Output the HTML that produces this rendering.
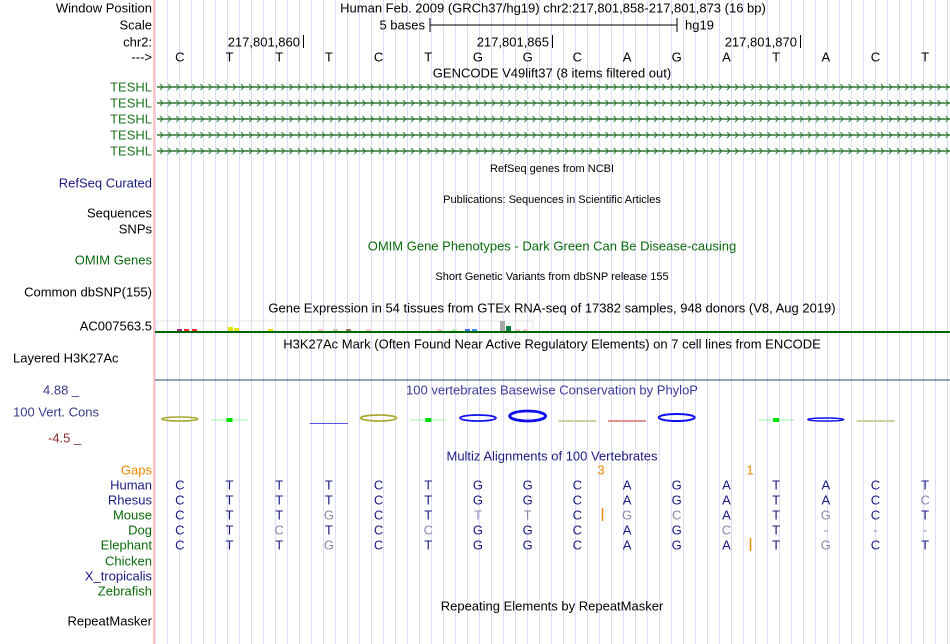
<!DOCTYPE html>
<html><head><meta charset="utf-8"><style>
body{margin:0;background:#fff;width:950px;height:644px;overflow:hidden}
svg{display:block;font-family:"Liberation Sans",sans-serif}
</style></head><body>
<svg id="c" width="950" height="644" xmlns="http://www.w3.org/2000/svg"></svg>
<script>
const bases=["C","T","T","T","C","T","G","G","C","A","G","A","T","A","C","T"];
const speciesNames=["Human","Rhesus","Mouse","Dog","Elephant"];
const alignRows=["CTTTCTGGCAGATACT","CTTTCTGGCAGATACc","CTTgCTttCgcATgCT","CTcTCcGGCAGcT---","CTTgCTGGCAGATgCT"];
const exprX=[177,184,192,228,234,268,318,333,346,366,437,452,465,472,500,506,515,523];
const exprH=[2,2,2,4,3,2,2,2,2,2,2,2,2,2,10,5,2,2];
const exprColors=["#9b2a7a","#ff3030","#ff3030","#e6e600","#e6e600","#e6e600","#f0c8c8","#d8c0b0","#9a7a60","#f0c8c8","#f0c8c8","#b0f0b0","#3070ff","#3090ff","#a8a8a8","#008040","#f0c8c8","#f0c8c8"];
const consBase=[0,1,3,4,5,6,7,8,9,10,12,13,14];
const consType=["oliveE","green","blueLine","oliveC","green","blueG","blueG","oliveLine","redLine","blueG","green","blueE","oliveLine"];
const consSize=[4,0,1,6,0,6,10,2,2,7,0,3,2];

const svg=document.getElementById('c');
const NS="http://www.w3.org/2000/svg";
function el(tag,attrs,name,inter){const e=document.createElementNS(NS,tag);for(const k in attrs)e.setAttribute(k,attrs[k]);


svg.appendChild(e);return e;}
function txt(x,y,s,opt,name,inter){const t=el('text',Object.assign({x:x,y:y+1,'font-size':13,fill:'#000','dominant-baseline':'middle'},opt||{}),name,inter);t.textContent=s;return t;}
const x0=155,bw=(950-155)/16;
function bx(i){return x0+(i+0.5)*bw;}
for(let x=155;x<950;x+=12){el('line',{x1:x+0.5,y1:0,x2:x+0.5,y2:644,stroke:'#dcdcf6','stroke-width':1},'grid-line',false);}
el('line',{x1:154,y1:0,x2:154,y2:644,stroke:'#ffb0b0','stroke-width':1.5},'label-divider',false);
const L=[["Window Position",8,"#000"],["Scale",25,"#000"],["chr2:",42,"#000"],["--->",57,"#000"],["TESHL",87,"#227722"],["TESHL",103,"#227722"],["TESHL",119,"#227722"],["TESHL",135,"#227722"],["TESHL",151,"#227722"],["RefSeq Curated",183,"#1a1a80"],["Sequences",213,"#000"],["SNPs",229,"#000"],["OMIM Genes",260,"#0a6a0a"],["Common dbSNP(155)",292,"#000"],["AC007563.5",326,"#000"],["Layered H3K27Ac",358,"#000"],["100 Vert. Cons",412,"#3a3a8a"],["Gaps",470,"#ee8800"],["Human",485,"#1a1a80"],["Rhesus",500,"#1a1a80"],["Mouse",515,"#0a6a0a"],["Dog",530,"#0a6a0a"],["Elephant",545,"#0a6a0a"],["Chicken",561,"#0a6a0a"],["X_tropicalis",576,"#1a1a80"],["Zebrafish",591,"#0a6a0a"],["RepeatMasker",621,"#000"]];
L.forEach(l=>{const ta=(l[0]==="Layered H3K27Ac"||l[0]==="100 Vert. Cons")?{x:13,a:'start'}:{x:152,a:'end'};txt(ta.x,l[1],l[0],{fill:l[2],'text-anchor':ta.a},'track-label',true);});
txt(43,390,"4.88 _",{fill:'#3a3a8a'},'y-axis-max',false);
txt(48,438,"-4.5 _",{fill:'#8a2a2a'},'y-axis-min',false);
txt(553,8,"Human Feb. 2009 (GRCh37/hg19)   chr2:217,801,858-217,801,873 (16 bp)",{'text-anchor':'middle','xml:space':'preserve'},'position-title',false);
txt(425,25,"5 bases",{'text-anchor':'end'},'scale-label',false);
el('line',{x1:430,y1:25,x2:677,y2:25,stroke:'#000'},'scale-bar',false);
el('line',{x1:430,y1:18,x2:430,y2:32,stroke:'#000'},'scale-tick',false);
el('line',{x1:677,y1:18,x2:677,y2:32,stroke:'#000'},'scale-tick',false);
txt(685,25,"hg19",{},'assembly-label',false);
[["217,801,860",303],["217,801,865",552],["217,801,870",800]].forEach(p=>{txt(p[1]-3,42,p[0],{'text-anchor':'end'},'coordinate-label',false);el('line',{x1:p[1]+0.5,y1:35,x2:p[1]+0.5,y2:48,stroke:'#000'},'coordinate-tick',false);});
bases.forEach((b,i)=>txt(bx(i),57,b,{'text-anchor':'middle'},'base-'+i,false));
txt(552,73,"GENCODE V49lift37 (8 items filtered out)",{'text-anchor':'middle'},'gencode-title',false);
[87,103,119,135,151].forEach(y=>{el('line',{x1:157,y1:y,x2:950,y2:y,stroke:'#0a5a0a','stroke-width':1.3},'transcript-line',true);
let d='';for(let x=160;x<948;x+=8.1){d+=`M${x},${y-3}L${x+3},${y}L${x},${y+3}`;}el('path',{d:d,stroke:'#2a7a2a',fill:'none','stroke-width':0.9},'strand-arrows',false);});
txt(552,168,"RefSeq genes from NCBI",{'text-anchor':'middle','font-size':11},'refseq-title',false);
txt(552,199,"Publications: Sequences in Scientific Articles",{'text-anchor':'middle','font-size':11},'publications-title',false);
txt(552,246,"OMIM Gene Phenotypes - Dark Green Can Be Disease-causing",{'text-anchor':'middle',fill:'#0a6a0a'},'omim-title',false);
txt(552,276,"Short Genetic Variants from dbSNP release 155",{'text-anchor':'middle','font-size':11},'dbsnp-title',false);
txt(552,308,"Gene Expression in 54 tissues from GTEx RNA-seq of 17382 samples, 948 donors (V8, Aug 2019)",{'text-anchor':'middle'},'gtex-title',false);
el('rect',{x:157,y:321,width:376,height:11,fill:'none',stroke:'#e4e4e4'},'gtex-box',false);
exprX.forEach((x,i)=>el('rect',{x:x,y:331-exprH[i],width:5,height:exprH[i],fill:exprColors[i]},'gtex-bar',true));
el('line',{x1:155,y1:332,x2:950,y2:332,stroke:'#006400','stroke-width':2},'gtex-baseline',false);
txt(552,344,"H3K27Ac Mark (Often Found Near Active Regulatory Elements) on 7 cell lines from ENCODE",{'text-anchor':'middle'},'h3k27ac-title',false);
el('line',{x1:155,y1:380,x2:950,y2:380,stroke:'#2a4a6a','stroke-width':1},'h3k27ac-baseline',false);
txt(552,390,"100 vertebrates Basewise Conservation by PhyloP",{'text-anchor':'middle',fill:'#3a3a9a'},'phylop-title',false);
consBase.forEach((bi,k)=>{const cx=bx(bi),t=consType[k],s=consSize[k],cy=420;
if(t==='green'){el('line',{x1:cx-18,y1:cy,x2:cx+18,y2:cy,stroke:'#a0f0a0'},'phylop-mark',true);el('rect',{x:cx-3,y:cy-2,width:6,height:4,fill:'#00e000'},'phylop-mark',true);}
else if(t.endsWith('Line')){const col=t==='blueLine'?'#5555dd':t==='redLine'?'#e09090':'#d0d0a0';el('rect',{x:cx-19,y:cy+(t==='blueLine'?3:0),width:38,height:s,fill:col},'phylop-mark',true);}
else{const col=t.startsWith('blue')?'#1010ee':'#aaaa30';el('ellipse',{cx:cx,cy:cy-s/2+1,rx:18,ry:Math.max(s/2,1.2),fill:'none',stroke:col,'stroke-width':Math.max(1.5,s/3.5)},'phylop-mark',true);}
});
txt(552,456,"Multiz Alignments of 100 Vertebrates",{'text-anchor':'middle',fill:'#1a1a80'},'multiz-title',false);
txt(601,470,"3",{'text-anchor':'middle',fill:'#ee8800'},'gap-count',false);
txt(750,470,"1",{'text-anchor':'middle',fill:'#ee8800'},'gap-count',false);
const rowY=[485,500,515,530,545];
alignRows.forEach((r,ri)=>{[...r].forEach((c,i)=>{const lower=c===c.toLowerCase()&&c!=='-';txt(bx(i),rowY[ri],c.toUpperCase(),{'text-anchor':'middle',fill:(lower||c==='-')?'#8888b0':'#1a1a80'},'aligned-base',false);});});
el('line',{x1:602.5,y1:508,x2:602.5,y2:521,stroke:'#ee8800','stroke-width':1.5},'insertion-mark',false);
el('line',{x1:750.5,y1:538,x2:750.5,y2:551,stroke:'#ee8800','stroke-width':1.5},'insertion-mark',false);
txt(552,606,"Repeating Elements by RepeatMasker",{'text-anchor':'middle'},'repeatmasker-title',false);
</script>
</body></html>
